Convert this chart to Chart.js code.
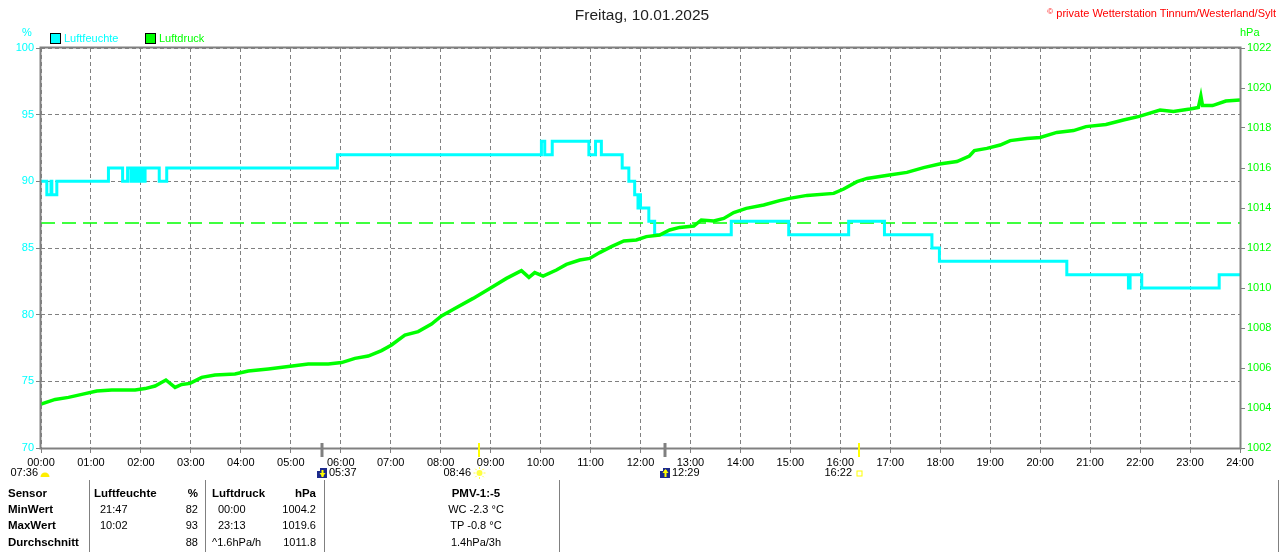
<!DOCTYPE html>
<html>
<head>
<meta charset="utf-8">
<title>Freitag, 10.01.2025</title>
<script src="https://cdn.jsdelivr.net/npm/chart.js@4.4.1/dist/chart.umd.min.js"></script>
<style>
  body { margin: 0; background: #fff; font-family: "Liberation Sans", Arial, sans-serif; }
  #page { position: relative; width: 1280px; height: 552px; overflow: hidden; }
  #chart { position: absolute; left: 0; top: 0; }
  .t { position: absolute; white-space: nowrap; font-size: 11px; line-height: 14px; color: #000; }
  .b { font-weight: bold; font-size: 11.5px; }
  .r { text-align: right; }
  .c { text-align: center; }
  .vl { position: absolute; top: 480px; height: 72px; width: 1px; background: #808080; }
  .box { position: absolute; width: 9px; height: 9px; border: 1px solid #000; }
</style>
</head>
<body>
<div id="page">
  <canvas id="chart" width="1280" height="552"></canvas>

  <div class="t" style="left:442px;top:6px;width:400px;text-align:center;font-size:15.5px;line-height:18px;color:#222">Freitag, 10.01.2025</div>
  <div class="t r" style="right:4px;top:5px;color:#ff0000"><span style="font-size:8px;vertical-align:3px">©</span> private Wetterstation Tinnum/Westerland/Sylt</div>

  <div class="t" style="left:22px;top:25px;color:#00ffff">%</div>
  <div class="t" style="left:1240px;top:25px;color:#00ff00">hPa</div>

  <div class="box" style="left:50px;top:33px;background:#00ffff"></div>
  <div class="t" style="left:64px;top:31px;color:#00ffff">Luftfeuchte</div>
  <div class="box" style="left:145px;top:33px;background:#00ff00"></div>
  <div class="t" style="left:159px;top:31px;color:#00ff00">Luftdruck</div>

  <!-- Tabelle -->
  <div class="vl" style="left:89px"></div>
  <div class="vl" style="left:205px"></div>
  <div class="vl" style="left:324px"></div>
  <div class="vl" style="left:559px"></div>
  <div class="vl" style="left:1278px"></div>

  <div class="t b" style="left:8px;top:486px">Sensor</div>
  <div class="t b" style="left:8px;top:502px">MinWert</div>
  <div class="t b" style="left:8px;top:518px">MaxWert</div>
  <div class="t b" style="left:8px;top:535px">Durchschnitt</div>

  <div class="t b" style="left:94px;top:486px">Luftfeuchte</div>
  <div class="t" style="left:100px;top:502px">21:47</div>
  <div class="t" style="left:100px;top:518px">10:02</div>

  <div class="t b r" style="left:150px;width:48px;top:486px">%</div>
  <div class="t r" style="left:150px;width:48px;top:502px">82</div>
  <div class="t r" style="left:150px;width:48px;top:518px">93</div>
  <div class="t r" style="left:150px;width:48px;top:535px">88</div>

  <div class="t b" style="left:212px;top:486px">Luftdruck</div>
  <div class="t" style="left:218px;top:502px">00:00</div>
  <div class="t" style="left:218px;top:518px">23:13</div>
  <div class="t" style="left:212px;top:535px">^1.6hPa/h</div>

  <div class="t b r" style="left:266px;width:50px;top:486px">hPa</div>
  <div class="t r" style="left:266px;width:50px;top:502px">1004.2</div>
  <div class="t r" style="left:266px;width:50px;top:518px">1019.6</div>
  <div class="t r" style="left:266px;width:50px;top:535px">1011.8</div>

  <div class="t b c" style="left:376px;width:200px;top:486px">PMV-1:-5</div>
  <div class="t c" style="left:376px;width:200px;top:502px">WC -2.3 °C</div>
  <div class="t c" style="left:376px;width:200px;top:518px">TP -0.8 °C</div>
  <div class="t c" style="left:376px;width:200px;top:535px">1.4hPa/3h</div>
</div>

<script>
// Achsenbeschriftung
const hourLabels = ['00:00','01:00','02:00','03:00','04:00','05:00','06:00','07:00','08:00','09:00','10:00','11:00','12:00',
                    '13:00','14:00','15:00','16:00','17:00','18:00','19:00','20:00','21:00','22:00','23:00','24:00'];

// Luftfeuchte (%) - Zeitpunkte der Wertänderung
const humTimes  = ['00:00','00:07','00:12','00:13','00:19','01:21','01:38','01:44','01:48','01:50','01:53','01:55','01:58',
                   '02:00','02:02','02:05','02:22','02:31','05:56','10:01','10:05','10:14','10:58','11:06','11:13','11:38',
                   '11:46','11:53','11:57','11:58','12:00','12:10','12:17','13:49','14:58','16:10','16:53','17:50','17:59',
                   '20:32','21:46','21:48','22:02','23:35','24:00'];
const humValues = [90, 89, 90, 89, 90, 91, 90, 91, 90, 91, 90, 91, 90,
                   91, 90, 91, 90, 91, 92, 93, 92, 93, 92, 93, 92, 91,
                   90, 89, 88, 89, 88, 87, 86, 87, 86, 87, 86, 85, 84,
                   83, 82, 83, 82, 83, 83];

// Luftdruck (hPa)
const pressTimes  = ['00:00','00:17','00:33','00:49','01:07','01:25','01:53','02:05','02:17','02:30','02:41','02:49','02:59',
                     '03:13','03:29','03:53','04:09','04:33','04:57','05:21','05:45','06:01','06:17','06:33','06:49','07:01',
                     '07:17','07:33','07:49','08:01','08:17','08:39','08:59','09:19','09:37','09:46','09:53','10:03','10:19',
                     '10:31','10:47','10:59','11:11','11:25','11:40','11:55','12:07','12:23','12:35','12:47','13:04','13:13',
                     '13:28','13:40','13:52','14:07','14:28','14:47','14:59','15:20','15:52','16:04','16:20','16:32','16:59',
                     '17:20','17:40','17:59','18:20','18:35','18:41','18:56','19:12','19:24','19:44','20:00','20:20','20:40',
                     '20:55','21:19','21:40','21:59','22:24','22:40','23:00','23:10','23:13','23:15','23:27','23:43','24:00'];
const pressValues = [1004.2, 1004.43, 1004.53, 1004.68, 1004.85, 1004.9, 1004.9, 1004.97, 1005.1, 1005.4, 1005.03, 1005.18, 1005.23,
                     1005.53, 1005.65, 1005.7, 1005.85, 1005.95, 1006.07, 1006.2, 1006.2, 1006.27, 1006.48, 1006.6, 1006.87, 1007.15,
                     1007.65, 1007.82, 1008.2, 1008.6, 1008.98, 1009.48, 1009.98, 1010.48, 1010.87, 1010.53, 1010.77, 1010.6, 1010.9,
                     1011.18, 1011.4, 1011.48, 1011.77, 1012.07, 1012.35, 1012.4, 1012.57, 1012.65, 1012.9, 1013.03, 1013.1, 1013.4,
                     1013.35, 1013.48, 1013.77, 1013.98, 1014.15, 1014.37, 1014.48, 1014.63, 1014.73, 1014.95, 1015.32, 1015.48, 1015.65,
                     1015.78, 1016.02, 1016.2, 1016.32, 1016.6, 1016.87, 1016.98, 1017.15, 1017.37, 1017.48, 1017.53, 1017.78, 1017.87,
                     1018.07, 1018.18, 1018.4, 1018.58, 1018.9, 1018.82, 1018.95, 1019.03, 1019.6, 1019.12, 1019.12, 1019.35, 1019.4];

const normalPressure = 1013.25;

// Sonne / Mond
const dawnLabel  = '07:36';
const eventTimes = ['05:37', '08:46', '12:29', '16:22'];
const eventKinds = ['moonset', 'sunrise', 'moonrise', 'sunset'];

const toH = s => { const p = s.split(':'); return Number(p[0]) + Number(p[1]) / 60; };
const FONT = '"Liberation Sans", Arial, sans-serif';
const GRAY = '#808080';

Chart.defaults.font.family = FONT;

const framePlugin = {
    id: 'frame',
    afterDatasetsDraw(chart) {
        const {ctx, chartArea: a} = chart;
        ctx.save();
        ctx.strokeStyle = GRAY;
        ctx.lineWidth = 2;
        ctx.strokeRect(a.left - 0.5, a.top - 0.5, a.right - a.left + 1, a.bottom - a.top + 1);
        ctx.restore();
    }
};

const eventsPlugin = {
    id: 'events',
    afterDraw(chart) {
        const {ctx, chartArea: a} = chart;
        const xs = chart.scales.x;
        const ty = 473;
        ctx.save();
        ctx.font = '11px ' + FONT;
        ctx.textBaseline = 'middle';
        ctx.fillStyle = '#000';

        // Dämmerung links
        ctx.textAlign = 'right';
        ctx.fillText(dawnLabel, 38, ty);
        ctx.fillStyle = '#ffee00';
        ctx.beginPath();
        ctx.arc(45, 477, 4.5, Math.PI, 0);
        ctx.fill();

        eventTimes.forEach((t, i) => {
            const px = Math.round(xs.getPixelForValue(toH(t)));
            const kind = eventKinds[i];
            const moon = kind.startsWith('moon');
            ctx.strokeStyle = moon ? GRAY : '#ffff00';
            ctx.lineWidth = moon ? 3 : 2;
            ctx.beginPath();
            ctx.moveTo(px, a.bottom - 5);
            ctx.lineTo(px, a.bottom + 9);
            ctx.stroke();

            ctx.fillStyle = '#000';
            if (moon) {
                ctx.textAlign = 'left';
                ctx.fillText(t, px + 7, ty);
                ctx.fillStyle = '#1c2a8c';
                ctx.fillRect(px - 5, ty - 5, 10, 10);
                ctx.fillStyle = '#ffffff';
                ctx.fillRect(px - 5, ty - 5, 3, 3);
                ctx.fillStyle = '#ffff00';
                ctx.fillRect(px - 0.5, ty - 3, 2, 7);
                ctx.beginPath();
                if (kind === 'moonrise') {
                    ctx.moveTo(px - 2.5, ty); ctx.lineTo(px + 0.5, ty - 4); ctx.lineTo(px + 3.5, ty);
                } else {
                    ctx.moveTo(px - 2.5, ty); ctx.lineTo(px + 0.5, ty + 4); ctx.lineTo(px + 3.5, ty);
                }
                ctx.fill();
            } else if (kind === 'sunrise') {
                ctx.textAlign = 'right';
                ctx.fillText(t, px - 8, ty);
                ctx.fillStyle = '#ffff40';
                ctx.strokeStyle = '#ffff40';
                ctx.lineWidth = 1;
                ctx.beginPath();
                ctx.arc(px + 0.5, ty, 3, 0, Math.PI * 2);
                ctx.fill();
                for (let k = 0; k < 8; k++) {
                    const ang = k * Math.PI / 4;
                    ctx.beginPath();
                    ctx.moveTo(px + 0.5 + Math.cos(ang) * 4, ty + Math.sin(ang) * 4);
                    ctx.lineTo(px + 0.5 + Math.cos(ang) * 6, ty + Math.sin(ang) * 6);
                    ctx.stroke();
                }
            } else {
                ctx.textAlign = 'right';
                ctx.fillText(t, px - 7, ty);
                ctx.strokeStyle = '#ffff00';
                ctx.lineWidth = 1;
                ctx.strokeRect(px - 2, ty - 2, 5, 5);
            }
        });
        ctx.restore();
    }
};

const chart = new Chart(document.getElementById('chart'), {
    type: 'line',
    data: {
        datasets: [
            {
                label: 'Luftdruck',
                data: pressTimes.map((t, i) => ({x: toH(t), y: pressValues[i]})),
                yAxisID: 'y2',
                borderColor: '#00ff00',
                borderWidth: 3.5,
                pointRadius: 0,
                order: 0
            },
            {
                label: 'Luftfeuchte',
                data: humTimes.map((t, i) => ({x: toH(t), y: humValues[i]})),
                yAxisID: 'y',
                borderColor: '#00ffff',
                borderWidth: 3,
                stepped: true,
                pointRadius: 0,
                order: 1
            },
            {
                label: 'Normaldruck',
                data: [{x: 0, y: normalPressure}, {x: 24, y: normalPressure}],
                yAxisID: 'y2',
                borderColor: '#00ff00',
                borderWidth: 1.5,
                borderDash: [14, 7],
                pointRadius: 0,
                order: 2
            }
        ]
    },
    options: {
        responsive: false,
        animation: false,
        devicePixelRatio: 1,
        layout: {padding: {top: 48}},
        plugins: {
            legend: {display: false},
            title: {display: false},
            tooltip: {enabled: false}
        },
        scales: {
            x: {
                type: 'linear',
                min: 0,
                max: 24,
                afterFit: s => { s.height = 104; },
                ticks: {
                    stepSize: 1,
                    autoSkip: false,
                    maxRotation: 0,
                    color: '#000',
                    padding: 3,
                    font: {size: 11},
                    callback: v => hourLabels[v]
                },
                grid: {color: GRAY, lineWidth: 1, tickLength: 5, tickColor: GRAY},
                border: {display: false, dash: [4, 3]}
            },
            y: {
                position: 'left',
                min: 70,
                max: 100,
                afterFit: s => { s.width = 41; },
                ticks: {stepSize: 5, color: '#00ffff', padding: 2, font: {size: 11}},
                grid: {color: GRAY, lineWidth: 1, tickLength: 5, tickColor: GRAY},
                border: {display: false, dash: [4, 3]}
            },
            y2: {
                position: 'right',
                min: 1002,
                max: 1022,
                afterFit: s => { s.width = 40; },
                ticks: {stepSize: 2, color: '#00ff00', padding: 2, font: {size: 11}, callback: v => String(v)},
                grid: {drawOnChartArea: false, color: GRAY, tickLength: 5, tickColor: GRAY},
                border: {display: false}
            }
        }
    },
    plugins: [framePlugin, eventsPlugin]
});
</script>
</body>
</html>
